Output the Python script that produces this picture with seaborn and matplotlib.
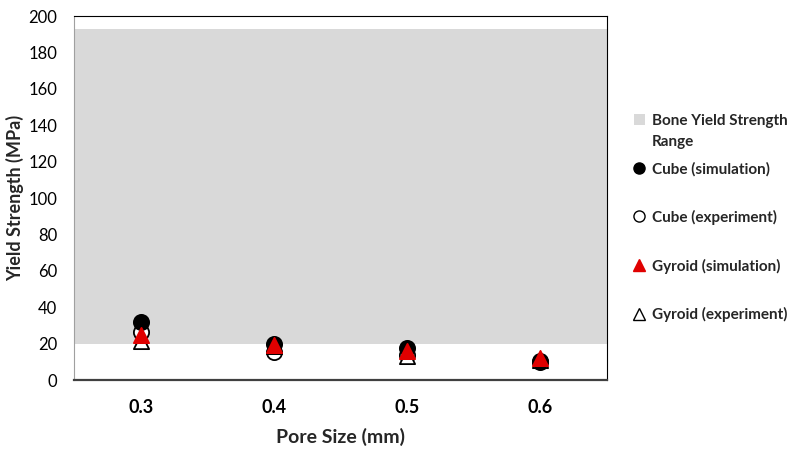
"""Yield strength vs pore size for cube and gyroid lattices."""

import matplotlib.pyplot as plt
import pandas as pd
import seaborn as sns
from matplotlib.lines import Line2D
from matplotlib.patches import Patch

pore_size = [0.3, 0.4, 0.5, 0.6]
cube_simulation = [32.0, 20.0, 17.8, 10.5]
cube_experiment = [26.5, 15.5, 14.0, 10.0]
gyroid_simulation = [24.5, 19.5, 16.0, 12.0]
gyroid_experiment = [21.5, 18.5, 13.0, 11.0]
bone_range = (20.0, 193.0)
y_ticks = list(range(0, 201, 20))

sns.set_theme(style="white")
plt.rcParams["font.family"] = ["Lato", "DejaVu Sans"]

fig = plt.figure(figsize=(7.94, 4.51), dpi=100)
ax = fig.add_axes([0.0932, 0.1574, 0.6713, 0.8071])

ax.axhspan(*bone_range, color="#d9d9d9", lw=0, zorder=0)

data = pd.DataFrame(
    {
        "pore": pore_size,
        "cube_sim": cube_simulation,
        "cube_exp": cube_experiment,
        "gyr_sim": gyroid_simulation,
        "gyr_exp": gyroid_experiment,
    }
)

series = [
    ("cube_exp", "o", "white", "black", 3),
    ("gyr_exp", "^", "white", "black", 4),
    ("cube_sim", "o", "black", "black", 5),
    ("gyr_sim", "^", "#e00000", "#e00000", 6),
]
for column, marker, face, edge, z in series:
    sns.scatterplot(
        data=data, x="pore", y=column, marker=marker, s=120,
        facecolor=face, edgecolor=edge, linewidth=1.3, ax=ax, zorder=z,
    )

ax.set_xlim(0.25, 0.65)
ax.set_ylim(0, 200)
ax.set_xticks(pore_size)
ax.set_xticklabels([f"{p:.1f}" for p in pore_size], fontsize=13, fontweight="bold")
ax.set_yticks(y_ticks)
ax.set_yticklabels([str(t) for t in y_ticks], fontsize=12)
ax.tick_params(axis="both", length=0, colors="black")
ax.tick_params(axis="x", pad=14)
ax.tick_params(axis="y", pad=12)
ax.set_xlabel("Pore Size (mm)", fontsize=14, fontweight="bold", labelpad=8)
ax.set_ylabel("Yield Strength (MPa)", fontsize=13, fontweight="bold", labelpad=3)

for side in ["top", "right"]:
    ax.spines[side].set_color("black")
    ax.spines[side].set_linewidth(0.8)
ax.spines["left"].set_color("#a0a0a0")
ax.spines["left"].set_linewidth(0.8)
ax.spines["bottom"].set_color("#404040")
ax.spines["bottom"].set_linewidth(1.6)

legend_font = {"weight": "bold", "size": 11}

band_legend = fig.legend(
    [Patch(facecolor="#d9d9d9", edgecolor="none")],
    ["Bone Yield Strength\nRange"],
    loc="upper left", bbox_to_anchor=(0.781, 0.778),
    frameon=False, handlelength=0.7, handleheight=0.7, handletextpad=0.5,
    prop=legend_font,
)
band_legend.get_texts()[0].set_linespacing(1.65)
# put the grey square next to the first line, as Excel does
for column in band_legend._legend_handle_box.get_children():
    for item in column.get_children():
        item.align = "top"

handles = [
    Line2D([], [], ls="none", marker="o", ms=8, mfc="black", mec="black"),
    Line2D([], [], ls="none", marker="o", ms=8, mfc="white", mec="black", mew=1),
    Line2D([], [], ls="none", marker="^", ms=8, mfc="#e00000", mec="#e00000"),
    Line2D([], [], ls="none", marker="^", ms=8, mfc="white", mec="black", mew=1),
]
labels = [
    "Cube (simulation)",
    "Cube (experiment)",
    "Gyroid (simulation)",
    "Gyroid (experiment)",
]
fig.legend(
    handles, labels, loc="upper left", bbox_to_anchor=(0.781, 0.672),
    frameon=False, handlelength=0.7, handletextpad=0.5,
    labelspacing=2.2, prop=legend_font,
)

fig.savefig("out.png", dpi=100)
